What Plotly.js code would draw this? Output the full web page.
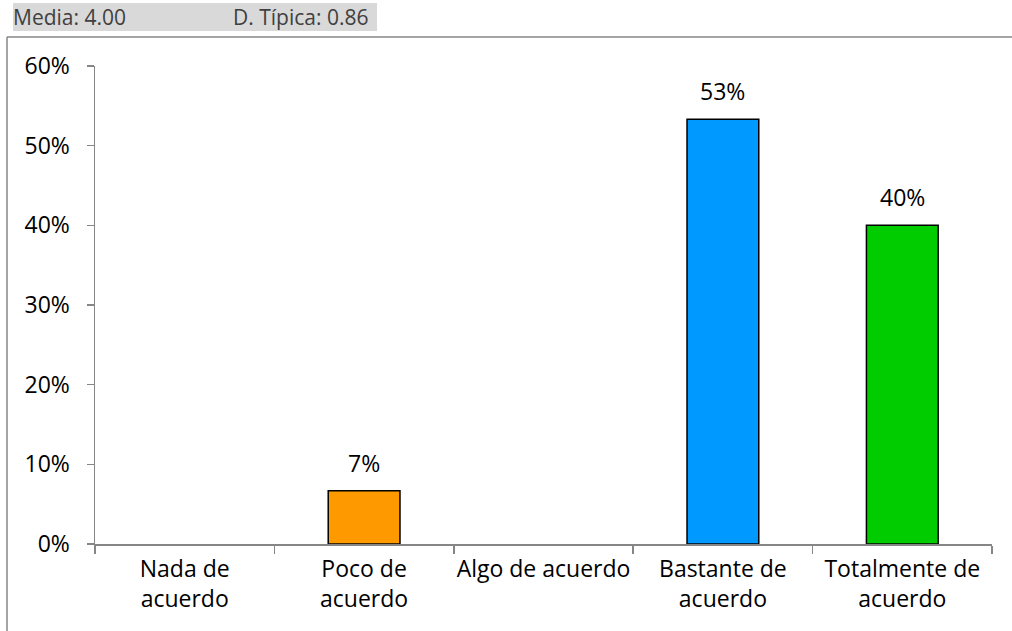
<!DOCTYPE html>
<html><head><meta charset="utf-8">
<script src="https://cdn.plot.ly/plotly-3.0.1.min.js"></script>
<style>html,body{margin:0;padding:0;background:#fff}#c{width:1012px;height:631px}</style>
</head><body><div id="c"></div>
<script>
const categories = ["Nada de<br>acuerdo", "Poco de<br>acuerdo", "Algo de acuerdo", "Bastante de<br>acuerdo", "Totalmente de<br>acuerdo"];
const values = [0, 0.0667, 0, 0.5333, 0.40];
const colors = ["#FF9900", "#FF9900", "#FFCC00", "#0099FF", "#00CC00"];
const yTicks = [0, 0.1, 0.2, 0.3, 0.4, 0.5, 0.6];
const yTickLabels = ["0%", "10%", "20%", "30%", "40%", "50%", "60%"];
const mediaText = "Media: 4.00";
const tipicaText = "D. Típica: 0.86";

const font = "'Open Sans', sans-serif";
const L = 95, R = 20, T = 66, B = 87, W = 1012, H = 631;
const pw = W - L - R, ph = H - T - B;
const px = v => (v - L) / pw;           // pixel -> paper x
const py = v => (H - B - v) / ph;       // pixel -> paper y

const annotations = [];
values.forEach((v, i) => {
  if (v > 0) annotations.push({x: categories[i], y: v, xref: 'x', yref: 'y',
    text: Math.round(v * 100) + '%', showarrow: false, yanchor: 'bottom', yshift: 10,
    font: {family: font, size: 23, color: '#000'}});
});
annotations.push({xref: 'paper', yref: 'paper', x: px(11), y: py(17), xanchor: 'left', yanchor: 'middle',
  text: mediaText, showarrow: false, font: {family: font, size: 21, color: '#404040'}});
annotations.push({xref: 'paper', yref: 'paper', x: px(231), y: py(17), xanchor: 'left', yanchor: 'middle',
  text: tipicaText, showarrow: false, font: {family: font, size: 21, color: '#404040'}});

const shapes = [
  {type: 'rect', xref: 'paper', yref: 'paper', x0: px(13), x1: px(377), y0: py(31), y1: py(3),
   fillcolor: '#D9D9D9', line: {width: 0}, layer: 'below'},
  {type: 'line', xref: 'paper', yref: 'paper', x0: px(7), x1: px(1012), y0: py(37), y1: py(37),
   line: {color: '#868686', width: 1.5}},
  {type: 'line', xref: 'paper', yref: 'paper', x0: px(7), x1: px(7), y0: py(37), y1: py(631),
   line: {color: '#868686', width: 1.5}}
];

const trace = {type: 'bar', x: categories, y: values.map(v => v > 0 ? v : null), width: 0.4,
  marker: {color: colors, line: {color: '#000', width: 1.5}}, hoverinfo: 'none'};

const layout = {
  width: W, height: H, margin: {l: L, r: R, t: T, b: B},
  paper_bgcolor: '#fff', plot_bgcolor: '#fff', showlegend: false,
  font: {family: font, size: 23, color: '#000'},
  xaxis: {type: 'category', tickson: 'boundaries', ticks: 'outside', ticklen: 8, tickwidth: 1.5,
    tickcolor: '#868686', showline: true, linecolor: '#868686', linewidth: 1.5, showgrid: false,
    ticklabelstandoff: 4, tickangle: 0,
    tickfont: {family: font, size: 23, color: '#000'}, fixedrange: true},
  yaxis: {range: [0, 0.6], tickvals: yTicks, ticktext: yTickLabels, ticks: 'outside', ticklen: 7,
    tickwidth: 1.5, tickcolor: '#868686', showline: true, linecolor: '#868686', linewidth: 1.5,
    showgrid: false, zeroline: false, ticklabelstandoff: 12,
    tickfont: {family: font, size: 23, color: '#000'}, fixedrange: true},
  annotations: annotations, shapes: shapes
};
Plotly.newPlot('c', [trace], layout, {displayModeBar: false, staticPlot: true});
</script></body></html>
